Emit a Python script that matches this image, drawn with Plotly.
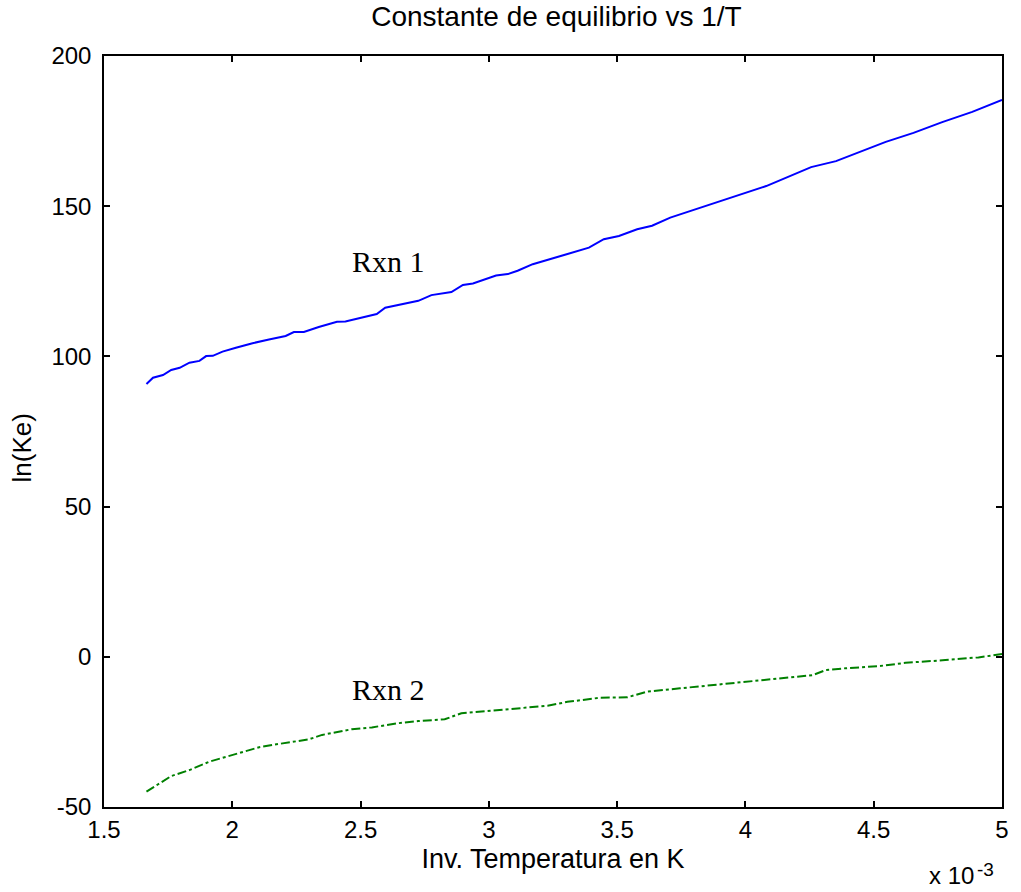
import plotly.graph_objects as go

# x values in units of 1e-3 1/K
x_rxn1 = [1.6655, 1.691, 1.730, 1.762, 1.795, 1.833, 1.872, 1.898, 1.924, 1.962, 2.014, 2.079,
          2.143, 2.208, 2.240, 2.279, 2.337, 2.408, 2.441, 2.563, 2.596, 2.725, 2.776, 2.854,
          2.899, 2.938, 3.028, 3.074, 3.112, 3.171, 3.280, 3.390, 3.448, 3.507, 3.578, 3.636,
          3.707, 3.849, 4.081, 4.256, 4.353, 4.547, 4.655, 4.767, 4.884, 5.0]
y_rxn1 = [90.8, 92.9, 93.8, 95.5, 96.2, 97.9, 98.5, 100.1, 100.2, 101.6, 102.9, 104.4,
          105.6, 106.8, 108.1, 108.1, 109.8, 111.5, 111.6, 114.1, 116.2, 118.5, 120.4, 121.4,
          123.8, 124.3, 126.9, 127.4, 128.5, 130.7, 133.4, 136.2, 139.0, 140.1, 142.3, 143.5,
          146.2, 150.2, 156.7, 163.0, 165.0, 171.4, 174.4, 178.0, 181.4, 185.4]

x_rxn2 = [1.6655, 1.762, 1.833, 1.911, 1.976, 2.053, 2.105, 2.182, 2.298, 2.350, 2.466, 2.544,
          2.647, 2.725, 2.828, 2.893, 3.074, 3.229, 3.306, 3.435, 3.539, 3.616, 3.745, 3.875,
          4.004, 4.198, 4.262, 4.314, 4.391, 4.521, 4.624, 4.779, 4.908, 5.0]
y_rxn2 = [-44.9, -39.7, -37.7, -34.9, -33.3, -31.4, -30.1, -29.0, -27.5, -26.0, -24.1, -23.5,
          -22.1, -21.4, -20.8, -18.8, -17.4, -16.3, -15.0, -13.6, -13.5, -11.6, -10.5, -9.4,
          -8.3, -6.7, -6.1, -4.4, -3.8, -3.1, -2.0, -1.1, -0.2, 0.9]

x_ticks = [1.5, 2, 2.5, 3, 3.5, 4, 4.5, 5]
x_tick_labels = ["1.5", "2", "2.5", "3", "3.5", "4", "4.5", "5"]
y_ticks = [-50, 0, 50, 100, 150, 200]
y_tick_labels = ["-50", "0", "50", "100", "150", "200"]

SANS = "Liberation Sans, Arial, sans-serif"
SERIF = "Liberation Serif, Times New Roman, serif"

fig = go.Figure()
fig.add_trace(go.Scatter(x=x_rxn1, y=y_rxn1, mode="lines",
                         line=dict(color="#0000ff", width=2), showlegend=False))
fig.add_trace(go.Scatter(x=x_rxn2, y=y_rxn2, mode="lines",
                         line=dict(color="#008000", width=2, dash="dashdot"), showlegend=False))

fig.add_annotation(x=2.61, y=131.5, text="Rxn 1", showarrow=False, xref="x", yref="y",
                   font=dict(family=SERIF, size=30, color="black"))
fig.add_annotation(x=2.61, y=-10.8, text="Rxn 2", showarrow=False, xref="x", yref="y",
                   font=dict(family=SERIF, size=30, color="black"))
# exponent label "x 10^-3" below the right end of the x axis
fig.add_annotation(x=0.9712, y=-0.112, xref="paper", yref="paper", text="x 10",
                   showarrow=False, xanchor="right", yanchor="bottom",
                   font=dict(family=SANS, size=24, color="black"))
fig.add_annotation(x=0.9700, y=-0.1, xref="paper", yref="paper", text="-3",
                   showarrow=False, xanchor="left", yanchor="bottom",
                   font=dict(family=SANS, size=19, color="black"))
fig.add_annotation(x=-0.0908, y=0.478, xref="paper", yref="paper", text="ln(Ke)",
                   showarrow=False, textangle=-90, xanchor="center", yanchor="middle",
                   font=dict(family=SANS, size=26, color="black"))

axis_common = dict(showgrid=False, zeroline=False, showline=True, linecolor="black", linewidth=1.5,
                   mirror="ticks", ticks="inside", ticklen=6, tickcolor="black", tickwidth=1.5,
                   tickfont=dict(family=SANS, size=24, color="black"))

fig.update_layout(
    width=1021, height=892,
    margin=dict(l=104, r=14, t=56, b=85),
    paper_bgcolor="white", plot_bgcolor="white",
    title=dict(text="Constante de equilibrio vs 1/T", x=0.545, xanchor="center", y=0.993, yanchor="top",
               font=dict(family=SANS, size=28, color="black")),
    xaxis=dict(range=[1.5, 5], tickvals=x_ticks, ticktext=x_tick_labels,
               title=dict(text="Inv. Temperatura en K", standoff=8,
                          font=dict(family=SANS, size=27, color="black")),
               **axis_common),
    yaxis=dict(range=[-50, 200], tickvals=y_ticks, ticktext=y_tick_labels,
               ticklabelstandoff=6,
               **axis_common),
)

fig.write_html("out.html")
